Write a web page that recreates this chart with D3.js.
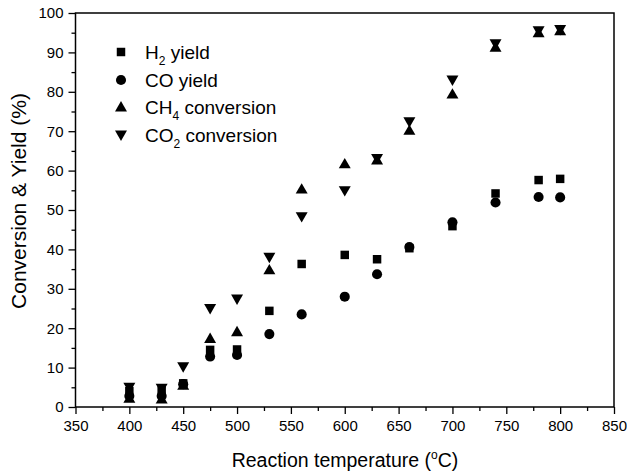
<!DOCTYPE html>
<html><head><meta charset="utf-8">
<script src="https://cdn.jsdelivr.net/npm/d3@7"></script>
<style>body{margin:0;background:#fff}svg{display:block}text{font-family:Arial,"Liberation Sans",sans-serif;fill:#000}</style>
</head><body>
<svg id="c" width="627" height="475"></svg>
<script>
const temps = [400, 430, 450, 475, 500, 530, 560, 600, 630, 660, 700, 740, 780, 800];
const h2Yield = [4.0, 4.2, 6.0, 14.5, 14.6, 24.4, 36.3, 38.6, 37.5, 40.3, 45.9, 54.2, 57.6, 57.9];
const coYield = [2.8, 2.8, 5.8, 12.8, 13.2, 18.5, 23.5, 28.0, 33.7, 40.6, 46.9, 51.9, 53.3, 53.2];
const ch4Conv = [2.2, 2.0, 5.5, 17.4, 19.1, 34.8, 55.3, 61.7, 62.7, 70.2, 79.4, 91.3, 95.0, 95.5];
const co2Conv = [5.0, 4.8, 10.2, 25.0, 27.4, 38.0, 48.3, 54.9, 63.1, 72.4, 83.0, 92.2, 95.5, 95.8];
const xTicks = [350, 400, 450, 500, 550, 600, 650, 700, 750, 800, 850];
const yTicks = [0, 10, 20, 30, 40, 50, 60, 70, 80, 90, 100];

const svg = d3.select("#c");
const L = 75.5, R = 614, T = 13, B = 407;
const x = d3.scaleLinear().domain([350, 850]).range([L, R]);
const y = d3.scaleLinear().domain([0, 100]).range([B, T]);

// frame
svg.append("rect").attr("x", L).attr("y", T).attr("width", R - L).attr("height", B - T)
  .attr("fill", "none").attr("stroke", "#000").attr("stroke-width", 1.5);

// axes
const xAx = svg.append("g").attr("transform", `translate(0,${B})`)
  .call(d3.axisBottom(x).tickValues(xTicks).tickSize(7).tickPadding(6).tickFormat(d3.format("d")));
const xMinor = svg.append("g").attr("transform", `translate(0,${B})`)
  .call(d3.axisBottom(x).tickValues(d3.range(375, 850, 50)).tickSize(4).tickFormat(""));
const yAx = svg.append("g").attr("transform", `translate(${L},0)`)
  .call(d3.axisLeft(y).tickValues(yTicks).tickSize(7).tickPadding(5).tickFormat(d3.format("d")));
const yMinor = svg.append("g").attr("transform", `translate(${L},0)`)
  .call(d3.axisLeft(y).tickValues(d3.range(5, 100, 10)).tickSize(4).tickFormat(""));
[xAx, xMinor, yAx, yMinor].forEach(g => {
  g.select(".domain").remove();
  g.selectAll("line").attr("stroke", "#000").attr("stroke-width", 1.3);
  g.selectAll("text").attr("font-size", 15).attr("fill", "#000");
});

// symbols
const sq = d3.symbol().type(d3.symbolSquare).size(72);
const ci = d3.symbol().type(d3.symbolCircle).size(80);
const triUp = d3.symbol().type(d3.symbolTriangle).size(62);
const series = [
  {name: "H2", vals: h2Yield, path: sq(), rot: 0, dy: 0},
  {name: "CO", vals: coYield, path: ci(), rot: 0, dy: 0},
  {name: "CH4", vals: ch4Conv, path: triUp(), rot: 0, dy: 1},
  {name: "CO2", vals: co2Conv, path: triUp(), rot: 180, dy: -1}
];
series.forEach(s => {
  svg.append("g").selectAll("path").data(temps).join("path")
    .attr("d", s.path)
    .attr("transform", (d, i) => `translate(${x(d)},${y(s.vals[i]) + s.dy}) rotate(${s.rot})`)
    .attr("fill", "#000");
});

// legend
const legY = [52, 80, 107, 135];
const leg = svg.append("g");
const labels = [
  ["H", "2", " yield"],
  ["CO yield", "", ""],
  ["CH", "4", " conversion"],
  ["CO", "2", " conversion"]
];
series.forEach((s, i) => {
  leg.append("path").attr("d", s.path)
    .attr("transform", `translate(121,${legY[i] + s.dy}) rotate(${s.rot})`).attr("fill", "#000");
  const t = leg.append("text").attr("x", 145).attr("y", legY[i] + 6.5).attr("font-size", 19);
  t.append("tspan").text(labels[i][0]);
  if (labels[i][1]) {
    t.append("tspan").attr("font-size", 12).attr("dy", 6).text(labels[i][1]);
    t.append("tspan").attr("dy", -6).text(labels[i][2]);
  }
});

// axis titles
const xt = svg.append("text").attr("x", 345).attr("y", 467).attr("text-anchor", "middle").attr("font-size", 19.5);
xt.append("tspan").text("Reaction temperature (");
xt.append("tspan").attr("font-size", 12).attr("dy", -8).text("o");
xt.append("tspan").attr("dy", 8).text("C)");
svg.append("text").attr("transform", "translate(26,201) rotate(-90)")
  .attr("text-anchor", "middle").attr("font-size", 21).text("Conversion & Yield (%)");
</script>
</body></html>
